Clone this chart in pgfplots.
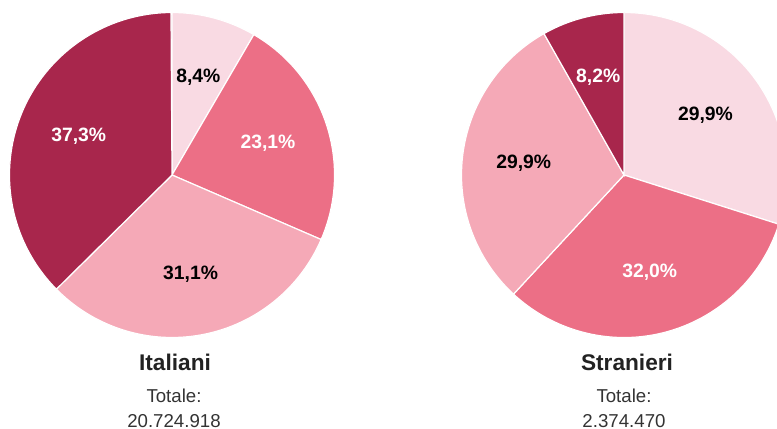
\documentclass[border=0pt]{standalone}
\usepackage{pgfplots}
\pgfplotsset{compat=1.18}
\usepackage{fontspec}
\setmainfont{Liberation Sans}
\definecolor{cA}{HTML}{F9DAE3}
\definecolor{cB}{HTML}{EC6F86}
\definecolor{cC}{HTML}{F5A9B7}
\definecolor{cD}{HTML}{A8264C}
\definecolor{tT}{HTML}{222222}
\definecolor{tS}{HTML}{333333}
\def\piecmds{}
\def\labcmds{}
\newcommand\buildpie[3]{%
 \xdef\cum{0}%
 \foreach \v/\c/\tc/\lab in {#3}{%
   \pgfmathsetmacro\a{90-\cum*3.6}%
   \pgfmathsetmacro\b{90-(\cum+\v)*3.6}%
   \pgfmathsetmacro\m{(\a+\b)/2}%
   \pgfmathsetmacro\lx{#1+101*cos(\m)}%
   \pgfmathsetmacro\ly{#2+101*sin(\m)}%
   \pgfmathsetmacro\newcum{\cum+\v}%
   \xdef\cum{\newcum}%
   \xdef\piecmds{\unexpanded\expandafter{\piecmds}\noexpand\fill[\c,draw=white,line width=0.9pt] (axis cs:#1,#2) -- ++(\a:121.875pt) arc[start angle=\a,end angle=\b,radius=121.875pt] -- cycle;}%
   \xdef\labcmds{\unexpanded\expandafter{\labcmds}\noexpand\node[text=\tc,font=\noexpand\bfseries\noexpand\fontsize{14.5}{17}\noexpand\selectfont] at (axis cs:\lx,\ly) {\lab\noexpand\%};}%
 }}
% data: value / colour / label colour / label
\buildpie{172}{253}{8.4/cA/black/{8,4}, 23.1/cB/white/{23,1}, 31.1/cC/black/{31,1}, 37.3/cD/white/{37,3}}
\buildpie{624}{253}{29.9/cA/black/{29,9}, 32.0/cB/white/{32,0}, 29.9/cC/black/{29,9}, 8.2/cD/white/{8,2}}
\begin{document}
\begin{tikzpicture}
\useasboundingbox (0,0) rectangle (582.75pt,321pt);
\clip (0,0) rectangle (582.75pt,321pt);
\begin{axis}[at={(0,0)}, anchor=origin, x=0.75pt, y=0.75pt,
  xmin=0, xmax=777, ymin=0, ymax=428, hide axis, clip=false]
\addplot[draw=none] coordinates {(172,253) (624,253)};
\piecmds
\labcmds
\node[text=tT,font=\bfseries\fontsize{17}{20}\selectfont] at (axis cs:175,66) {Italiani};
\node[text=tS,font=\fontsize{14}{17}\selectfont] at (axis cs:174,32) {Totale:};
\node[text=tS,font=\fontsize{14}{17}\selectfont] at (axis cs:174,7) {20.724.918};
\node[text=tT,font=\bfseries\fontsize{17}{20}\selectfont] at (axis cs:627,66) {Stranieri};
\node[text=tS,font=\fontsize{14}{17}\selectfont] at (axis cs:624,32) {Totale:};
\node[text=tS,font=\fontsize{14}{17}\selectfont] at (axis cs:624,7) {2.374.470};
\end{axis}
\end{tikzpicture}
\end{document}
